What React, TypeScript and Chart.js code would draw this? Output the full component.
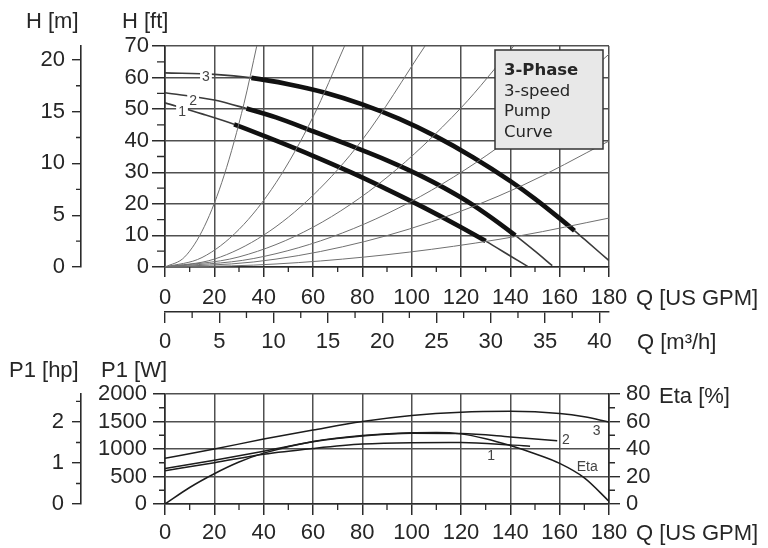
import React, { useEffect, useRef } from "react";
import { Chart, registerables } from "chart.js";

Chart.register(...registerables);

// ---------------- DATA ----------------
// Pump curves H (ft) versus Q (US GPM), one per speed
const pump1Q = [0, 15, 28, 45, 60, 75, 90, 105, 120, 130, 140, 147];
const pump1H = [52, 48.5, 45.2, 40.0, 35.2, 30.1, 24.6, 18.8, 12.6, 8.2, 3.5, 0.2];
const pump2Q = [0, 20, 33, 45, 60, 75, 90, 105, 120, 130, 142, 150, 157];
const pump2H = [55.2, 52.9, 50.2, 47.4, 43.0, 38.5, 33.8, 28.4, 22.0, 16.9, 10.0, 5.0, 0.4];
const pump3Q = [0, 20, 35, 50, 65, 80, 95, 110, 125, 140, 150, 160, 166, 170, 180];
const pump3H = [61.5, 61.0, 59.9, 57.9, 55.2, 51.5, 46.9, 41.3, 34.7, 27.2, 21.6, 15.4, 11.5, 8.8, 2.0];
// bold (operating) range of each speed, GPM
const pump1Bold = [28, 130];
const pump2Bold = [33, 142];
const pump3Bold = [35, 166];

// System curves (thin parabolas from the origin)
const sysAQ = [0, 8, 16, 24, 32, 37.2];
const sysAH = [0, 3.2, 12.9, 29.1, 51.7, 70];
const sysBQ = [0, 15, 30, 45, 60, 72.8];
const sysBH = [0, 3, 11.9, 26.7, 47.5, 70];
const sysCQ = [0, 20, 40, 60, 80, 105.4];
const sysCH = [0, 2.5, 10.1, 22.7, 40.3, 70];
const sysDQ = [0, 30, 60, 90, 120, 141.4];
const sysDH = [0, 3.2, 12.6, 28.4, 50.4, 70];
const sysEQ = [0, 36, 72, 108, 144, 180];
const sysEH = [0, 2.7, 10.8, 24.3, 43.1, 67.4];
const sysFQ = [0, 36, 72, 108, 144, 180];
const sysFH = [0, 1.6, 6.4, 14.3, 25.5, 39.9];
const sysGQ = [0, 36, 72, 108, 144, 180];
const sysGH = [0, 0.6, 2.5, 5.6, 9.9, 15.5];

// Power input P1 (W) versus Q (US GPM)
const power3Q = [0, 20, 40, 60, 80, 100, 120, 140, 160, 170, 180];
const power3W = [830, 1000, 1180, 1345, 1500, 1610, 1670, 1685, 1645, 1585, 1490];
const power2Q = [0, 20, 40, 60, 80, 100, 120, 140, 159];
const power2W = [645, 795, 960, 1130, 1235, 1285, 1280, 1220, 1150];
const power1Q = [0, 20, 40, 60, 80, 100, 120, 140, 148];
const power1W = [605, 750, 905, 1010, 1090, 1115, 1118, 1075, 1050];
// Efficiency (%) versus Q (US GPM)
const etaQ = [0, 10, 20, 30, 40, 60, 80, 100, 110, 120, 130, 140, 150, 160, 170, 180];
const etaPct = [0, 12, 22, 30.5, 37, 45.5, 49.8, 51.8, 52, 51, 47.5, 42.5, 36.5, 29.5, 19, 2];

// Axis ranges / unit conversions
const gpmMax = 180;
const ftMax = 70;
const wattMax = 2000;
const etaMax = 80;
const FT_TO_M = 0.3048;
const GPM_TO_M3H = 0.2271247;
const W_PER_HP = 745.7;

// Legend box text
const legendLines = ["3-Phase", "3-speed", "Pump", "Curve"];

// ---------------- STYLE ----------------
const FONT = "'Liberation Sans', Arial, Helvetica, sans-serif";
const LEG_FONT = "'DejaVu Sans', Verdana, sans-serif";
const TXT = "#262626";
const AXIS = "#2b2b2b";
const GRID = "#505050";
const CURVE = "#1c1c1c";
const SYS = "#707070";
const FS = 22;
const tickFont = { family: FONT, size: FS };
const plain = (v: any) => String(v);

function xy(qs: number[], vs: number[]) {
  return qs.map((q, i) => ({ x: q, y: vs[i] }));
}

function drawMinor(ctx: CanvasRenderingContext2D, scale: any, step: number, major: number, len: number) {
  if (!scale) return;
  ctx.save();
  ctx.strokeStyle = AXIS;
  ctx.lineWidth = 1.3;
  ctx.beginPath();
  const n = Math.floor((scale.max + 1e-9) / step);
  for (let i = 0; i <= n; i++) {
    const v = i * step;
    const r = v / major;
    if (Math.abs(r - Math.round(r)) < 1e-6) continue;
    const p = scale.getPixelForValue(v);
    if (scale.position === "left") {
      ctx.moveTo(scale.right - len, p);
      ctx.lineTo(scale.right, p);
    } else if (scale.position === "right") {
      ctx.moveTo(scale.left, p);
      ctx.lineTo(scale.left + len, p);
    } else {
      ctx.moveTo(p, scale.top);
      ctx.lineTo(p, scale.top + len);
    }
  }
  ctx.stroke();
  ctx.restore();
}

function text(ctx: CanvasRenderingContext2D, s: string, x: number, y: number, font: string, align: CanvasTextAlign = "left") {
  ctx.save();
  ctx.font = font;
  ctx.fillStyle = TXT;
  ctx.textAlign = align;
  ctx.textBaseline = "alphabetic";
  ctx.fillText(s, x, y);
  ctx.restore();
}

function boxedLabel(ctx: CanvasRenderingContext2D, s: string, x: number, y: number) {
  ctx.save();
  ctx.font = `14px ${FONT}`;
  const w = ctx.measureText(s).width;
  ctx.fillStyle = "#ffffff";
  ctx.fillRect(x - w / 2 - 2, y - 7, w + 4, 14);
  ctx.fillStyle = "#444";
  ctx.textAlign = "center";
  ctx.textBaseline = "middle";
  ctx.fillText(s, x, y + 0.5);
  ctx.restore();
}

function pumpDataset(q: number[], h: number[], bold: number[]) {
  const inBold = (c: any) => c.p0.parsed.x >= bold[0] - 1e-6 && c.p1.parsed.x <= bold[1] + 1e-6;
  return {
    data: xy(q, h),
    xAxisID: "x",
    yAxisID: "y",
    borderColor: CURVE,
    borderWidth: 1.6,
    pointRadius: 0,
    cubicInterpolationMode: "monotone",
    segment: {
      borderWidth: (c: any) => (inBold(c) ? 4.6 : 1.6),
      borderColor: (c: any) => (inBold(c) ? "#111" : "#3a3a3a"),
    },
  };
}

function sysDataset(q: number[], h: number[]) {
  return {
    data: xy(q, h),
    xAxisID: "x",
    yAxisID: "y",
    borderColor: SYS,
    borderWidth: 1,
    pointRadius: 0,
    cubicInterpolationMode: "monotone",
  };
}

function thinDataset(q: number[], v: number[], axis = "y") {
  return {
    data: xy(q, v),
    xAxisID: "x",
    yAxisID: axis,
    borderColor: CURVE,
    borderWidth: 1.5,
    pointRadius: 0,
    cubicInterpolationMode: "monotone",
  };
}

const topDecor = {
  id: "topDecor",
  afterDraw(chart: any) {
    const ctx: CanvasRenderingContext2D = chart.ctx;
    const s = chart.scales;
    drawMinor(ctx, s.ym, 2.5, 5, 5);
    drawMinor(ctx, s.y, 5, 10, 8);
    drawMinor(ctx, s.x, 10, 20, 5);
    drawMinor(ctx, s.x2, 2.5, 5, 6);

    const f = `${FS}px ${FONT}`;
    text(ctx, "H [m]", 26, 28, f);
    text(ctx, "H [ft]", 122, 28, f);
    text(ctx, "Q [US GPM]", 636, 305, f);
    text(ctx, "Q [m³/h]", 637, 349, f);

    // curve labels
    boxedLabel(ctx, "3", s.x.getPixelForValue(16.6), s.y.getPixelForValue(60.3));
    boxedLabel(ctx, "2", s.x.getPixelForValue(11.4), s.y.getPixelForValue(52.6));
    boxedLabel(ctx, "1", s.x.getPixelForValue(6.9), s.y.getPixelForValue(49.2));

    // legend box
    ctx.save();
    ctx.fillStyle = "#e8e8e8";
    ctx.strokeStyle = "#333";
    ctx.lineWidth = 1.5;
    ctx.fillRect(495, 50, 108, 99);
    ctx.strokeRect(495, 50, 108, 99);
    ctx.restore();
    text(ctx, legendLines[0], 504, 75, `bold 16.5px ${LEG_FONT}`);
    text(ctx, legendLines[1], 504, 95.5, `16.5px ${LEG_FONT}`);
    text(ctx, legendLines[2], 504, 116, `16.5px ${LEG_FONT}`);
    text(ctx, legendLines[3], 504, 136.5, `16.5px ${LEG_FONT}`);
  },
};

const botDecor = {
  id: "botDecor",
  afterDraw(chart: any) {
    const ctx: CanvasRenderingContext2D = chart.ctx;
    const s = chart.scales;
    drawMinor(ctx, s.hp, 0.5, 1, 5);
    drawMinor(ctx, s.y, 250, 500, 6);
    drawMinor(ctx, s.eta, 10, 20, 6);
    drawMinor(ctx, s.x, 10, 20, 6);

    const f = `${FS}px ${FONT}`;
    text(ctx, "P1 [hp]", 9, 21, f);
    text(ctx, "P1 [W]", 101, 21, f);
    text(ctx, "Eta [%]", 659, 47, f);
    text(ctx, "Q [US GPM]", 636, 184, f);

    const lf = `14px ${FONT}`;
    const lab = (t: string, q: number, w: number) => {
      ctx.save();
      ctx.font = lf;
      ctx.fillStyle = "#444";
      ctx.textAlign = "center";
      ctx.textBaseline = "middle";
      ctx.fillText(t, s.x.getPixelForValue(q), s.y.getPixelForValue(w));
      ctx.restore();
    };
    lab("3", 175, 1333);
    lab("2", 162.5, 1153);
    lab("1", 132.2, 865);
    lab("Eta", 171.2, 672);
  },
};

export default function App() {
  const topRef = useRef<HTMLCanvasElement>(null);
  const botRef = useRef<HTMLCanvasElement>(null);

  useEffect(() => {
    const gridStyle = { color: GRID, lineWidth: 1.5, tickColor: AXIS };
    const border = { display: true, color: AXIS, width: 1.6 };

    const top = new Chart(topRef.current as HTMLCanvasElement, {
      type: "line",
      data: {
        datasets: [
          sysDataset(sysAQ, sysAH),
          sysDataset(sysBQ, sysBH),
          sysDataset(sysCQ, sysCH),
          sysDataset(sysDQ, sysDH),
          sysDataset(sysEQ, sysEH),
          sysDataset(sysFQ, sysFH),
          sysDataset(sysGQ, sysGH),
          pumpDataset(pump1Q, pump1H, pump1Bold),
          pumpDataset(pump2Q, pump2H, pump2Bold),
          pumpDataset(pump3Q, pump3H, pump3Bold),
        ] as any,
      },
      options: {
        responsive: false,
        animation: false,
        events: [],
        layout: { padding: { left: 0, top: 46, right: 159, bottom: 0 } },
        plugins: { legend: { display: false }, tooltip: { enabled: false } },
        scales: {
          ym: {
            type: "linear",
            position: "left",
            weight: 10,
            min: 0,
            max: ftMax * FT_TO_M,
            afterFit: (sc: any) => { sc.width = 81; },
            grid: { drawOnChartArea: false, tickLength: 9, color: AXIS, lineWidth: 1.4 },
            border,
            ticks: { stepSize: 5, includeBounds: false, autoSkip: false, font: tickFont, color: TXT, padding: 7, callback: plain },
          },
          y: {
            type: "linear",
            position: "left",
            weight: 0,
            min: 0,
            max: ftMax,
            afterFit: (sc: any) => { sc.width = 84; },
            grid: { ...gridStyle, tickLength: 13 },
            border,
            ticks: { stepSize: 10, autoSkip: false, font: tickFont, color: TXT, padding: 3, callback: plain },
          },
          x: {
            type: "linear",
            position: "bottom",
            weight: 0,
            min: 0,
            max: gpmMax,
            afterFit: (sc: any) => { sc.height = 45; },
            grid: { ...gridStyle, tickLength: 10 },
            border,
            ticks: { stepSize: 20, autoSkip: false, maxRotation: 0, font: tickFont, color: TXT, padding: 8, callback: plain },
          },
          x2: {
            type: "linear",
            position: "bottom",
            weight: 10,
            min: 0,
            max: gpmMax * GPM_TO_M3H,
            afterFit: (sc: any) => { sc.height = 44; },
            grid: { drawOnChartArea: false, tickLength: 11, color: AXIS, lineWidth: 1.4 },
            border,
            ticks: { stepSize: 5, includeBounds: false, autoSkip: false, maxRotation: 0, font: tickFont, color: TXT, padding: 6, callback: plain },
          },
        } as any,
      },
      plugins: [topDecor],
    } as any);

    const bot = new Chart(botRef.current as HTMLCanvasElement, {
      type: "line",
      data: {
        datasets: [
          thinDataset(power3Q, power3W),
          thinDataset(power2Q, power2W),
          thinDataset(power1Q, power1W),
          thinDataset(etaQ, etaPct, "eta"),
        ] as any,
      },
      options: {
        responsive: false,
        animation: false,
        events: [],
        layout: { padding: { left: 0, top: 38, right: 99, bottom: 0 } },
        plugins: { legend: { display: false }, tooltip: { enabled: false } },
        scales: {
          hp: {
            type: "linear",
            position: "left",
            weight: 10,
            min: 0,
            max: wattMax / W_PER_HP,
            afterFit: (sc: any) => { sc.width = 81; },
            grid: { drawOnChartArea: false, tickLength: 9, color: AXIS, lineWidth: 1.4 },
            border,
            ticks: { stepSize: 1, includeBounds: false, autoSkip: false, font: tickFont, color: TXT, padding: 8, callback: plain },
          },
          y: {
            type: "linear",
            position: "left",
            weight: 0,
            min: 0,
            max: wattMax,
            afterFit: (sc: any) => { sc.width = 84; },
            grid: { ...gridStyle, tickLength: 12 },
            border,
            ticks: { stepSize: 500, autoSkip: false, font: tickFont, color: TXT, padding: 6, callback: plain },
          },
          eta: {
            type: "linear",
            position: "right",
            min: 0,
            max: etaMax,
            afterFit: (sc: any) => { sc.width = 60; },
            grid: { drawOnChartArea: false, tickLength: 11, color: AXIS, lineWidth: 1.4 },
            border,
            ticks: { stepSize: 20, autoSkip: false, font: tickFont, color: TXT, padding: 6, callback: plain },
          },
          x: {
            type: "linear",
            position: "bottom",
            min: 0,
            max: gpmMax,
            afterFit: (sc: any) => { sc.height = 44; },
            grid: { ...gridStyle, tickLength: 11 },
            border,
            ticks: { stepSize: 20, autoSkip: false, maxRotation: 0, font: tickFont, color: TXT, padding: 5, callback: plain },
          },
        } as any,
      },
      plugins: [botDecor],
    } as any);

    return () => {
      top.destroy();
      bot.destroy();
    };
  }, []);

  return (
    <div style={{ position: "absolute", left: 0, top: 0, width: 768, height: 548, background: "#ffffff" }}>
      <canvas ref={topRef} width={768} height={356} style={{ display: "block", width: 768, height: 356 }} />
      <canvas ref={botRef} width={768} height={192} style={{ display: "block", width: 768, height: 192 }} />
    </div>
  );
}
